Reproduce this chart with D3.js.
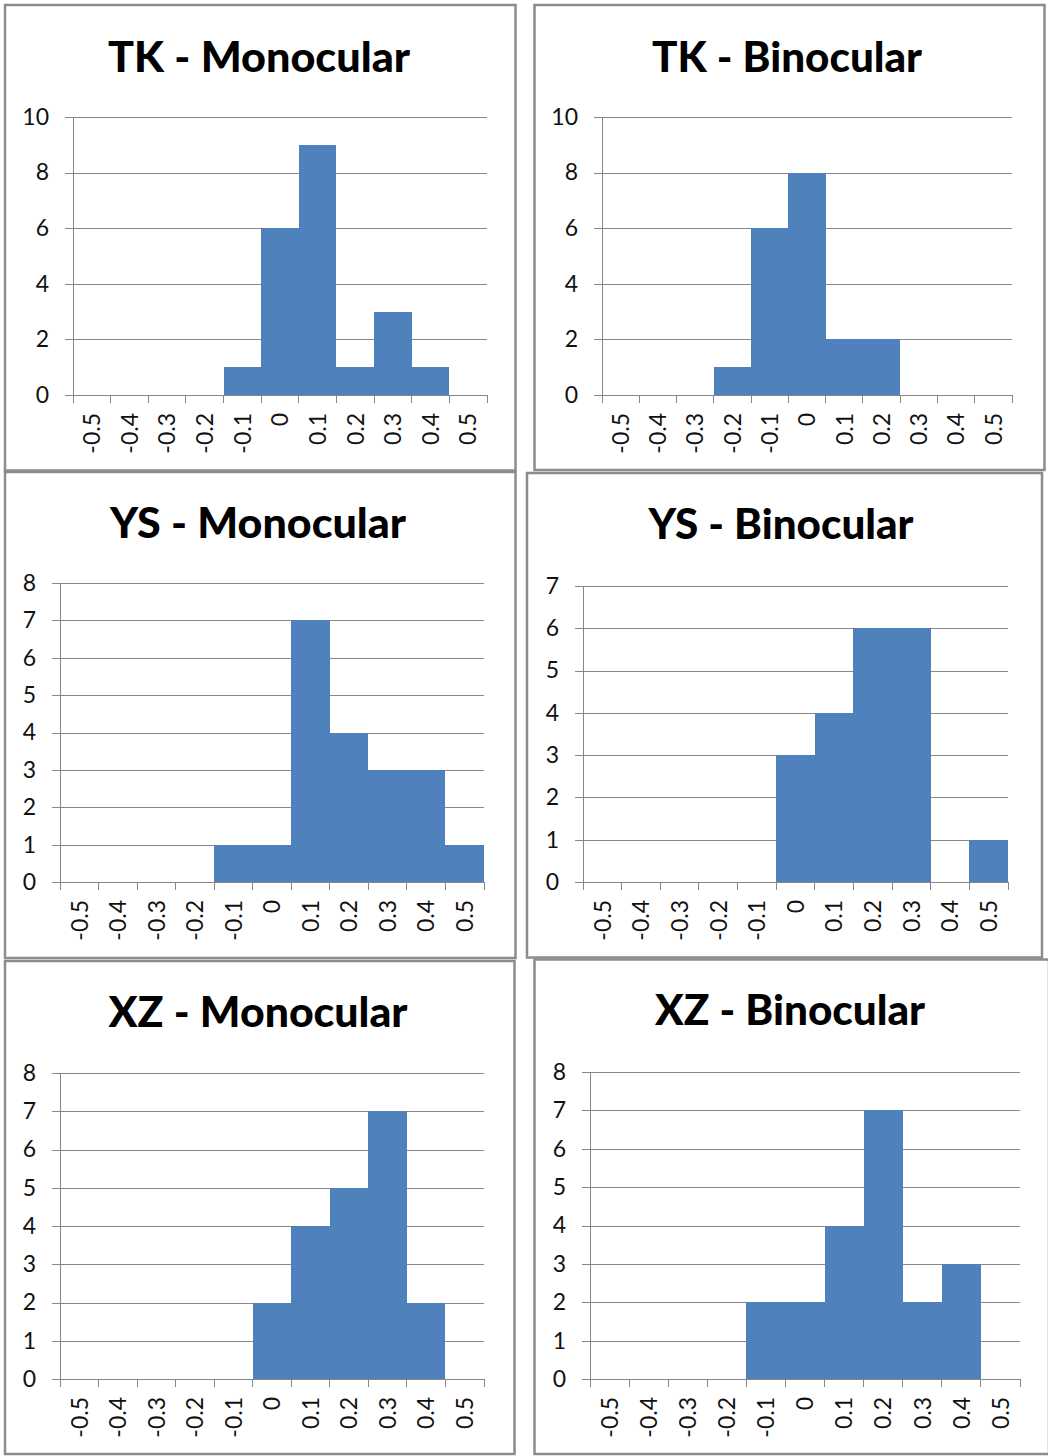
<!DOCTYPE html>
<html>
<head>
<meta charset="utf-8">
<script src="https://cdn.jsdelivr.net/npm/d3@7"></script>
<style>
  html, body { margin: 0; padding: 0; background: #fff; }
  svg { display: block; }
</style>
</head>
<body>
<svg id="chart" width="1048" height="1456"></svg>
<script>
// Bin labels shared by every histogram
const categories = ["-0.5", "-0.4", "-0.3", "-0.2", "-0.1", "0", "0.1", "0.2", "0.3", "0.4", "0.5"];

// Counts per bin
const tkMono = [0, 0, 0, 0, 1, 6, 9, 1, 3, 1, 0];
const tkBino = [0, 0, 0, 1, 6, 8, 2, 2, 0, 0, 0];
const ysMono = [0, 0, 0, 0, 1, 1, 7, 4, 3, 3, 1];
const ysBino = [0, 0, 0, 0, 0, 3, 4, 6, 6, 0, 1];
const xzMono = [0, 0, 0, 0, 0, 2, 4, 5, 7, 2, 0];
const xzBino = [0, 0, 0, 0, 2, 2, 4, 7, 2, 3, 0];

// Panel titles
const titles = ["TK - Monocular", "TK - Binocular", "YS - Monocular", "YS - Binocular", "XZ - Monocular", "XZ - Binocular"];

// Y-axis tick values per panel
const yTicks10 = [0, 2, 4, 6, 8, 10];
const yTicks8 = [0, 1, 2, 3, 4, 5, 6, 7, 8];
const yTicks7 = [0, 1, 2, 3, 4, 5, 6, 7];

const series = [tkMono, tkBino, ysMono, ysBino, xzMono, xzBino];
const tickSets = [yTicks10, yTicks10, yTicks8, yTicks7, yTicks8, yTicks8];

// Frame, plot area and title geometry for each panel
const layout = [
  { frame: [5, 5, 515.5, 470.5],     plot: [73, 117, 487, 395],    titleX: 259, titleY: 72,   titleW: 302 },
  { frame: [534.5, 5, 1044.5, 470],  plot: [602, 117, 1012, 395],  titleX: 787, titleY: 72,   titleW: 270 },
  { frame: [5, 472, 515.5, 958],     plot: [60, 583, 484, 882],    titleX: 258, titleY: 538,  titleW: 296 },
  { frame: [527, 473, 1042, 957.5],  plot: [583, 586, 1008, 882],  titleX: 781, titleY: 539,  titleW: 265 },
  { frame: [5, 961, 514.5, 1454],    plot: [60, 1073, 484, 1379],  titleX: 258, titleY: 1027, titleW: 299 },
  { frame: [534.5, 959.5, 1049, 1454], plot: [590, 1072, 1020, 1379], titleX: 790, titleY: 1025, titleW: 270 }
];

const svg = d3.select("#chart");
const gridColor = "#878787";
const barColor = "#4F81BD";
const textColor = "#111";
const fontFamily = "Lato, 'Open Sans', sans-serif";
const labelSize = 23;

series.forEach((values, i) => {
  const L = layout[i];
  const [fx0, fy0, fx1, fy1] = L.frame;
  const [px0, py0, px1, py1] = L.plot;
  const ticks = tickSets[i];

  const g = svg.append("g");

  // Panel frame
  g.append("rect")
    .attr("x", fx0).attr("y", fy0)
    .attr("width", fx1 - fx0).attr("height", fy1 - fy0)
    .attr("fill", "#fff")
    .attr("stroke", "#8c8c8c")
    .attr("stroke-width", 2.5);

  // Title
  g.append("text")
    .attr("x", L.titleX).attr("y", L.titleY)
    .attr("text-anchor", "middle")
    .attr("font-family", fontFamily)
    .attr("font-weight", 900)
    .attr("font-size", 42)
    .attr("fill", "#000")
    .attr("textLength", L.titleW)
    .attr("lengthAdjust", "spacingAndGlyphs")
    .text(titles[i]);

  const x = d3.scaleBand().domain(categories).range([px0, px1]).padding(0);
  const y = d3.scaleLinear().domain([0, d3.max(ticks)]).range([py1, py0]);

  // Horizontal gridlines, extended left as tick marks
  const yAxis = d3.axisLeft(y)
    .tickValues(ticks)
    .tickSize(-(px1 - px0) - 8)
    .tickPadding(17)
    .tickFormat(d3.format("d"));
  const yg = g.append("g")
    .attr("transform", `translate(${px1},0)`)
    .call(yAxis);
  yg.select(".domain").remove();
  yg.selectAll(".tick line")
    .attr("x1", 0)
    .attr("x2", -(px1 - px0) - 8)
    .attr("stroke", gridColor)
    .attr("shape-rendering", "crispEdges");
  yg.selectAll(".tick text")
    .attr("x", -(px1 - px0) - 24)
    .attr("font-family", fontFamily)
    .attr("font-size", labelSize)
    .attr("fill", textColor);

  // Bars
  g.append("g").selectAll("rect")
    .data(values.map((v, k) => ({ c: categories[k], v })))
    .join("rect")
    .attr("x", d => x(d.c))
    .attr("width", x.bandwidth())
    .attr("y", d => y(d.v))
    .attr("height", d => y(0) - y(d.v))
    .attr("fill", barColor)
    .attr("shape-rendering", "crispEdges");

  // Vertical axis line
  g.append("line")
    .attr("x1", px0).attr("x2", px0)
    .attr("y1", py0).attr("y2", py1)
    .attr("stroke", gridColor)
    .attr("shape-rendering", "crispEdges");

  // Category axis with ticks on bin boundaries
  const xg = g.append("g").attr("transform", `translate(0,${py1})`);
  xg.append("line")
    .attr("x1", px0 - 8).attr("x2", px1)
    .attr("stroke", gridColor)
    .attr("shape-rendering", "crispEdges");
  const bounds = categories.map(c => x(c)).concat([px1]);
  xg.selectAll("line.tk")
    .data(bounds)
    .join("line")
    .attr("class", "tk")
    .attr("x1", d => d).attr("x2", d => d)
    .attr("y1", 0).attr("y2", 8)
    .attr("stroke", gridColor)
    .attr("shape-rendering", "crispEdges");
  xg.selectAll("text")
    .data(categories)
    .join("text")
    .attr("transform", d => `translate(${x(d) + x.bandwidth() / 2},18) rotate(-90)`)
    .attr("text-anchor", "end")
    .attr("dy", "0.36em")
    .attr("font-family", fontFamily)
    .attr("font-size", labelSize)
    .attr("fill", textColor)
    .text(d => d);
});
</script>
</body>
</html>
